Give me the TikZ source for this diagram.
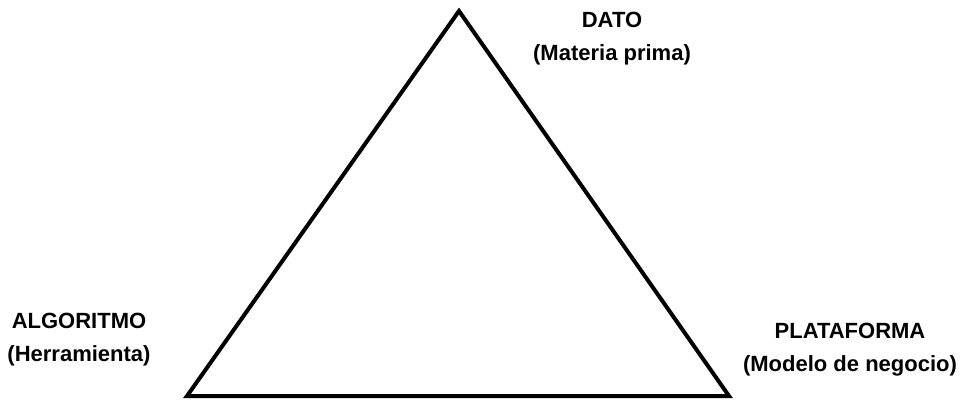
\documentclass[tikz,border=0pt]{standalone}
\usepackage{fontspec}
\setmainfont{Liberation Sans}
\usepackage{tikz}
\usetikzlibrary{positioning,calc}

\begin{document}
\begin{tikzpicture}[x=1pt, y=-1pt, every node/.style={font=\bfseries\fontsize{22}{33}\selectfont, align=center}]
        \useasboundingbox (0,0) rectangle (968,404);

        % Corners
        \coordinate (top) at (459,11);
        \coordinate (left) at (187,396);
        \coordinate (right) at (729,396);

        % Triangle
        \draw[line width=4pt, line join=miter] (top) -- (left) -- (right) -- cycle;

        % Labels
        \node (dato) at (612,39) {DATO\\(Materia prima)};
        \node (algo) at (79,340) {ALGORITMO\\(Herramienta)};
        \node (plat) at (850,350) {PLATAFORMA\\(Modelo de negocio)};
    \end{tikzpicture}
\end{document}
